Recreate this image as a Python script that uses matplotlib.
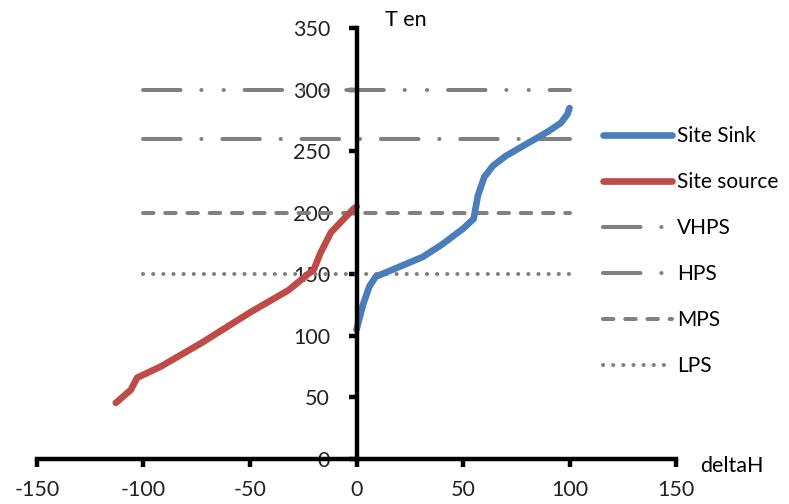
import matplotlib.pyplot as plt

plt.rcParams['font.family'] = ['Lato', 'DejaVu Sans']
plt.rcParams['lines.scale_dashes'] = False
plt.rcParams['axes.unicode_minus'] = False

# Site Sink curve (deltaH, T)
sink_dh = [0, 3, 6, 9, 20, 31, 40, 50, 55, 57, 60, 64, 70, 80, 90, 96, 99, 100]
sink_t = [105, 125, 140, 148, 156, 164, 174, 187, 195, 214, 229, 238, 246, 256, 266, 273, 280, 285]

# Site source curve (deltaH, T)
src_dh = [-113, -106, -103, -92, -73, -50, -32, -20, -17, -12, -1.5, 0]
src_t = [45.6, 56, 66, 75, 94, 119, 137, 154, 167, 184, 203, 205]

# Utility levels
levels = {'VHPS': 300, 'HPS': 260, 'MPS': 200, 'LPS': 150}
level_span = [-100, 100]

xticks = [-150, -100, -50, 0, 50, 100, 150]
yticks = [0, 50, 100, 150, 200, 250, 300, 350]

gray = '#808080'
styles = {
    'VHPS': (0, (27, 15, 0.1, 16, 0.1, 15)),
    'HPS': (0, (27, 15, 0.1, 15)),
    'MPS': (0, (7.5, 8.5)),
    'LPS': (0, (0.1, 7.2)),
}

fig = plt.figure(figsize=(7.89, 5.04), dpi=100)
ax = fig.add_axes([37 / 789, 45 / 504, (676 - 37) / 789, (459 - 28) / 504])

ax.plot(sink_dh, sink_t, color='#4A7EBB', lw=4.8, solid_capstyle='round',
        solid_joinstyle='round', label='Site Sink', zorder=4)
ax.plot(src_dh, src_t, color='#BE4B48', lw=4.8, solid_capstyle='round',
        solid_joinstyle='round', label='Site source', zorder=4)
for name, val in levels.items():
    ax.plot(level_span, [val, val], color=gray, lw=2.9, ls=styles[name],
            dash_capstyle='round', label=name, zorder=3)

ax.set_xlim(-150, 150)
ax.set_ylim(0, 350)
ax.set_xticks(xticks)
ax.set_yticks(yticks)

for s in ['top', 'right']:
    ax.spines[s].set_visible(False)
ax.spines['left'].set_position(('data', 0))
ax.spines['bottom'].set_position(('data', 0))
ax.spines['left'].set_linewidth(3.2)
ax.spines['bottom'].set_linewidth(3.2)
ax.spines['left'].set_zorder(5)
ax.spines['bottom'].set_zorder(5)

ax.tick_params(axis='x', direction='out', length=6, width=3.2, pad=9, labelsize=15.5)
ax.tick_params(axis='y', direction='out', length=6, width=3.2, pad=13, labelsize=15.5)
for lab in ax.get_xticklabels() + ax.get_yticklabels():
    lab.set_color('#222222')

fig.text(385 / 789, 1 - 20 / 504, 'T en', fontsize=15.5, va='center', ha='left')
fig.text(700 / 789, 1 - 466 / 504, 'deltaH', fontsize=15.5, va='center', ha='left')

fig.legend(loc='upper left', bbox_to_anchor=(603 / 789, 1 - 126 / 504),
           frameon=False, fontsize=15, handlelength=3.3, handletextpad=0.25,
           labelspacing=1.25, borderaxespad=0, borderpad=0)

fig.savefig('out.png', dpi=100, facecolor='white')
